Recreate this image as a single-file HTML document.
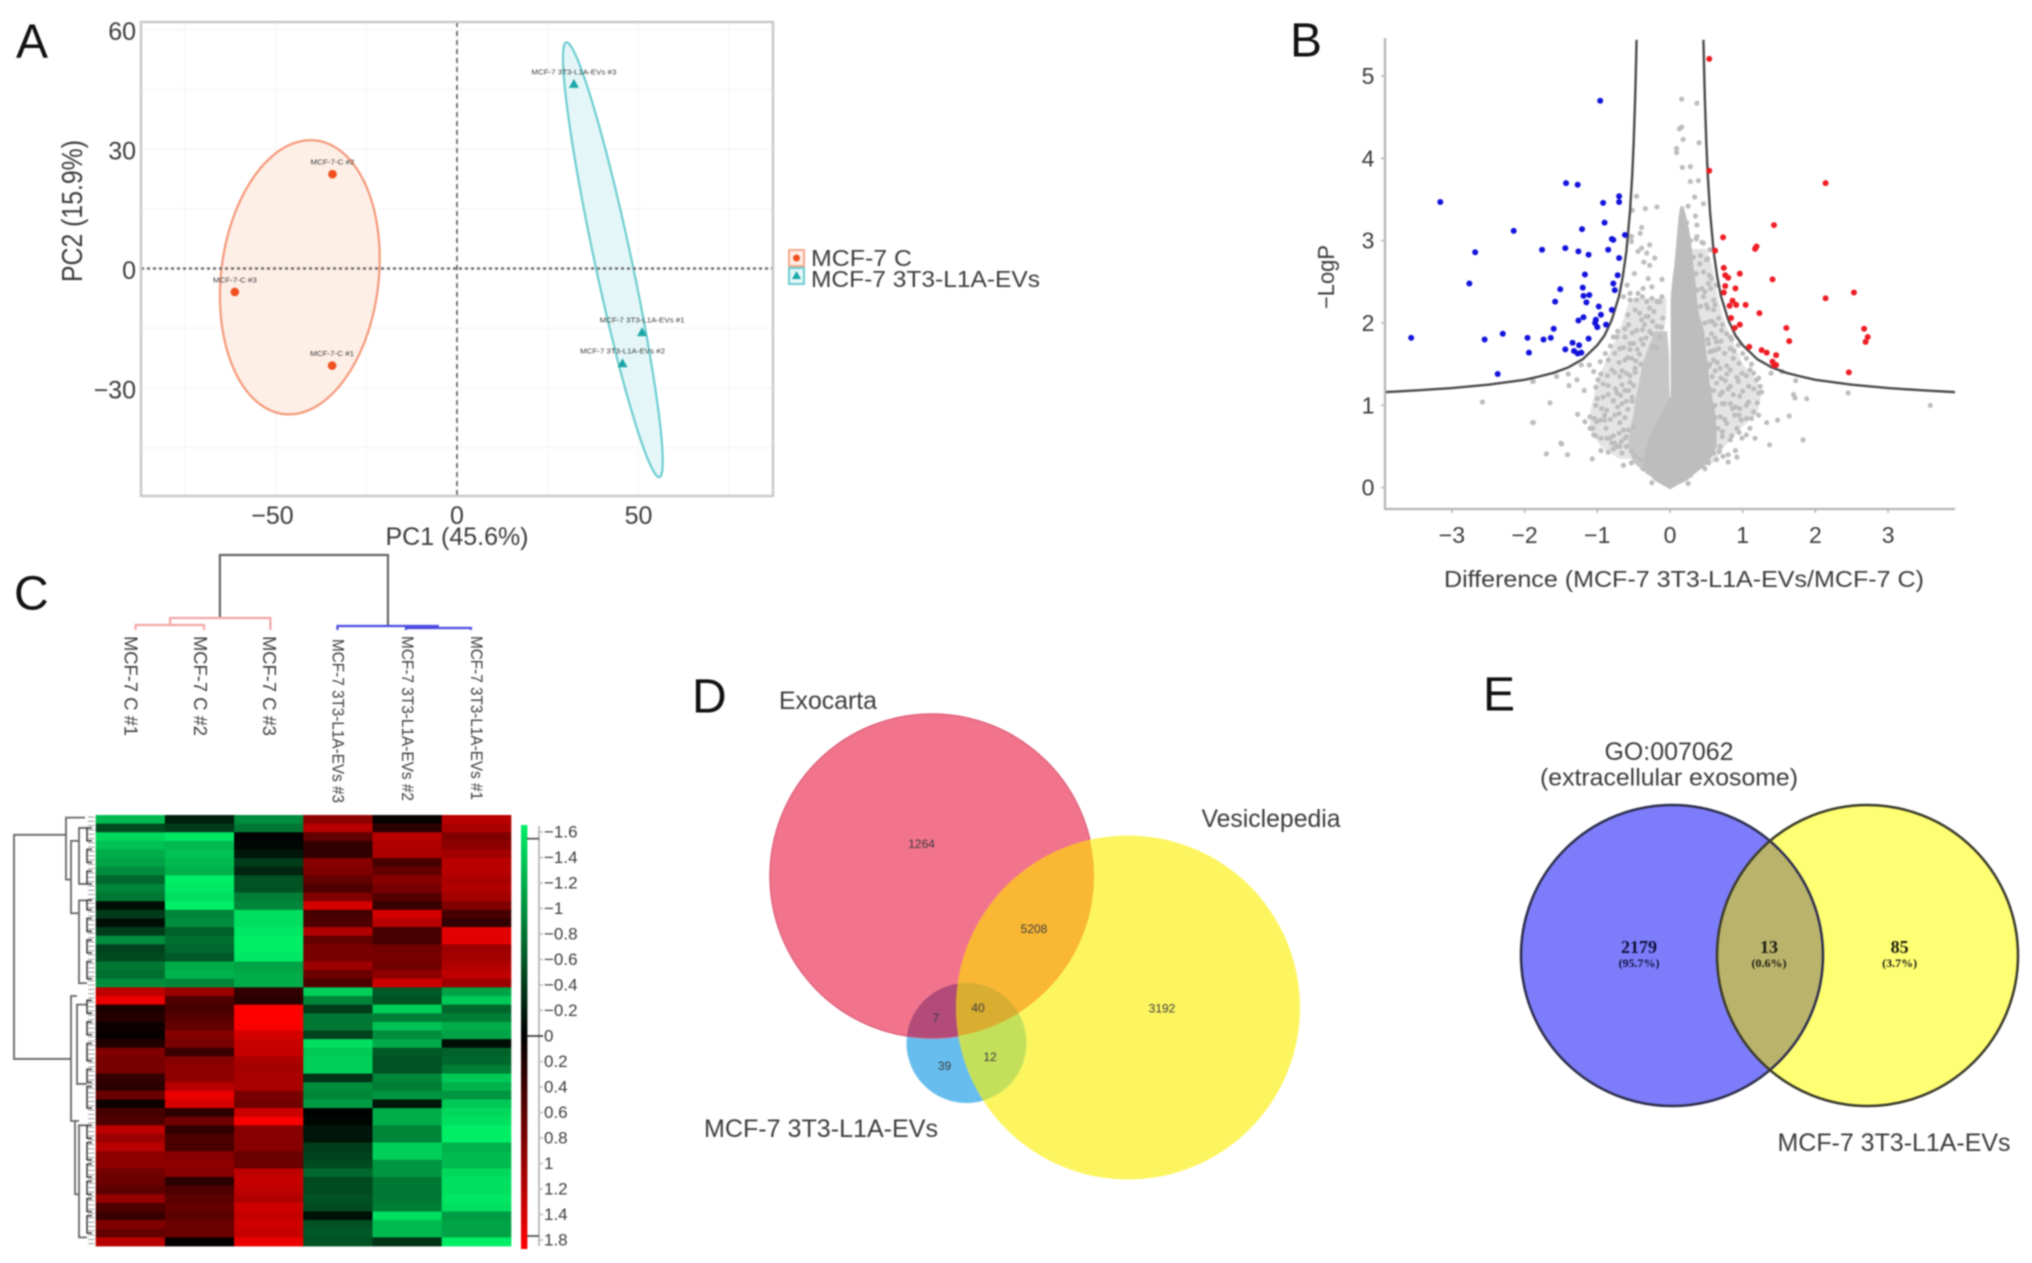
<!DOCTYPE html>
<html lang="en">
<head>
<meta charset="utf-8">
<title>Proteomic analysis of MCF-7 cells and 3T3-L1A extracellular vesicles</title>
<style>
html,body{margin:0;padding:0;background:#fff;}
#figure{display:block;width:2032px;height:1263px;filter:blur(0.8px);font-family:"Liberation Sans",Arial,sans-serif;}
text{fill:#3c3c3c;dominant-baseline:central;}
</style>
</head>
<body>
<svg id="figure" width="2032" height="1263" viewBox="0 0 2032 1263">
  <defs>
    <linearGradient id="colorbar-gradient" x1="0" y1="0" x2="0" y2="1">
      <stop offset="0" stop-color="#00ee66"/>
      <stop offset="0.4976" stop-color="#000000"/>
      <stop offset="1" stop-color="#ff0000"/>
    </linearGradient>
    <clipPath id="clip-exocarta"><circle cx="932" cy="876" r="162"/></clipPath>
    <clipPath id="clip-vesiclepedia"><circle cx="1128" cy="1007.5" r="172"/></clipPath>
    <clipPath id="clip-go"><ellipse cx="1672" cy="955.5" rx="151" ry="150.5"/></clipPath>
  </defs>

  <rect x="0" y="0" width="2032" height="1263" fill="#ffffff"/>

  <text x="16" y="42" font-size="48" fill="#111" style="fill:#111">A</text>
  <text x="1290" y="41" font-size="48" style="fill:#111">B</text>
  <text x="14" y="594" font-size="48" style="fill:#111">C</text>
  <text x="692" y="697" font-size="48" style="fill:#111">D</text>
  <text x="1483" y="695" font-size="48" style="fill:#111">E</text>

  <g id="panel-a"></g>
  <text x="457" y="537" font-size="25" text-anchor="middle" textLength="143" lengthAdjust="spacingAndGlyphs">PC1 (45.6%)</text>
  <text transform="translate(72,211) rotate(-90) scale(1,1.25)" font-size="23" text-anchor="middle" textLength="142" lengthAdjust="spacingAndGlyphs">PC2 (15.9%)</text>

  <g>
    <rect x="789" y="250" width="15" height="16" fill="#fdeee6" stroke="#f4a98a" stroke-width="2"/>
    <circle cx="796.5" cy="258" r="3.5" fill="#f0501e"/>
    <text x="811" y="258" font-size="23" textLength="101" lengthAdjust="spacingAndGlyphs">MCF-7 C</text>
    <rect x="789" y="268" width="15" height="16" fill="#e4f6f8" stroke="#6dcdd0" stroke-width="2"/>
    <polygon points="796.5,271 801,279 792,279" fill="#1aa6a6"/>
    <text x="811" y="279" font-size="23" textLength="229" lengthAdjust="spacingAndGlyphs">MCF-7 3T3-L1A-EVs</text>
  </g>

  <g id="panel-b"></g>
  <text x="1684" y="579" font-size="23" text-anchor="middle" textLength="480" lengthAdjust="spacingAndGlyphs">Difference (MCF-7 3T3-L1A-EVs/MCF-7 C)</text>
  <text transform="translate(1326,277) rotate(-90)" font-size="23" text-anchor="middle" textLength="64" lengthAdjust="spacingAndGlyphs">−LogP</text>

  <g id="panel-c"></g>

  <g>
    <circle cx="966.5" cy="1043" r="60" fill="#66bdee"/>
    <circle cx="932" cy="876" r="162" fill="#f1748c" stroke="#e0627c" stroke-width="1.5"/>
    <circle cx="1128" cy="1007.5" r="172" fill="#fcf560"/>
    <circle cx="1128" cy="1007.5" r="172" fill="#f9b733" clip-path="url(#clip-exocarta)"/>
    <circle cx="966.5" cy="1043" r="60" fill="#b24b78" clip-path="url(#clip-exocarta)"/>
    <circle cx="966.5" cy="1043" r="60" fill="#c4e05b" clip-path="url(#clip-vesiclepedia)"/>
    <g clip-path="url(#clip-vesiclepedia)">
      <circle cx="966.5" cy="1043" r="60" fill="#d9ad30" clip-path="url(#clip-exocarta)"/>
    </g>
    <text x="828" y="701" font-size="25" text-anchor="middle" textLength="98" lengthAdjust="spacingAndGlyphs">Exocarta</text>
    <text x="1271" y="819" font-size="25" text-anchor="middle" textLength="139" lengthAdjust="spacingAndGlyphs">Vesiclepedia</text>
    <text x="821" y="1129" font-size="25" text-anchor="middle" textLength="234" lengthAdjust="spacingAndGlyphs">MCF-7 3T3-L1A-EVs</text>
    <text x="921.6" y="844" font-size="12" text-anchor="middle">1264</text>
    <text x="1034" y="929" font-size="12" text-anchor="middle">5208</text>
    <text x="1162" y="1008.5" font-size="12" text-anchor="middle">3192</text>
    <text x="978" y="1008" font-size="12" text-anchor="middle">40</text>
    <text x="936" y="1018" font-size="12" text-anchor="middle">7</text>
    <text x="990" y="1057" font-size="12" text-anchor="middle">12</text>
    <text x="944.5" y="1066" font-size="12" text-anchor="middle">39</text>
  </g>

  <g>
    <ellipse cx="1672" cy="955.5" rx="151" ry="150.5" fill="#7d7dfb"/>
    <ellipse cx="1867.5" cy="955.5" rx="150.5" ry="150.5" fill="#ffff73"/>
    <ellipse cx="1867.5" cy="955.5" rx="150.5" ry="150.5" fill="#b9b36c" clip-path="url(#clip-go)"/>
    <ellipse cx="1672" cy="955.5" rx="151" ry="150.5" fill="none" stroke="#2e2e4e" stroke-width="2.5"/>
    <ellipse cx="1867.5" cy="955.5" rx="150.5" ry="150.5" fill="none" stroke="#3a3a2a" stroke-width="2.5"/>
    <text x="1669" y="752" font-size="25" text-anchor="middle" textLength="129" lengthAdjust="spacingAndGlyphs">GO:007062</text>
    <text x="1669" y="778" font-size="24" text-anchor="middle" textLength="258" lengthAdjust="spacingAndGlyphs">(extracellular exosome)</text>
    <text x="1894" y="1143" font-size="25" text-anchor="middle" textLength="233" lengthAdjust="spacingAndGlyphs">MCF-7 3T3-L1A-EVs</text>
    <g font-family="'Liberation Serif',serif" font-weight="bold" text-anchor="middle">
      <text x="1639" y="947" font-size="18" style="fill:#10103c">2179</text>
      <text x="1639" y="963" font-size="12" style="fill:#10103c">(95.7%)</text>
      <text x="1769" y="947" font-size="18" style="fill:#1c1c10">13</text>
      <text x="1769" y="963" font-size="12" style="fill:#1c1c10">(0.6%)</text>
      <text x="1899.6" y="947" font-size="18" style="fill:#1c1c10">85</text>
      <text x="1899.6" y="963" font-size="12" style="fill:#1c1c10">(3.7%)</text>
    </g>
  </g>
</svg>

<script>
/* ---------- Panel A: PCA values ---------- */
const pcaXTicks = [-50, 0, 50];
const pcaYTicks = [60, 30, 0, -30];
const pcaXGrid = [-75, -50, -25, 0, 25, 50, 75];
const pcaYGrid = [60, 45, 30, 15, 0, -15, -30, -45];
const controlPC1 = [-34.4, -34.3, -61.2];
const controlPC2 = [-24.4, 23.7, -5.9];
const controlLabels = ['MCF-7-C #1', 'MCF-7-C #2', 'MCF-7-C #3'];
const evPC1 = [51, 45.6, 32.2];
const evPC2 = [-16, -23.8, 46.4];
const evLabels = ['MCF-7 3T3-L1A-EVs #1', 'MCF-7 3T3-L1A-EVs #2', 'MCF-7 3T3-L1A-EVs #3'];

/* ---------- Panel B: volcano values ---------- */
const volcanoXTicks = [-3, -2, -1, 0, 1, 2, 3];
const volcanoYTicks = [0, 1, 2, 3, 4, 5];
const curveAbsDiff = [0.46,0.47,0.48,0.5,0.52,0.55,0.6,0.65,0.7,0.8,0.9,1,1.2,1.4,1.6,1.8,2,2.5,3,3.5,3.92];
const curveLogP = [5.44,5.04,4.71,4.18,3.79,3.36,2.87,2.56,2.33,2.04,1.85,1.73,1.56,1.46,1.395,1.35,1.31,1.25,1.21,1.18,1.16];
const coreLogP = [0,0.05,0.1,0.2,0.3,0.5,0.7,0.9,1.1,1.3,1.5,1.7,1.9,2.1,2.3,2.5,2.7,2.9,3.1,3.3,3.4];
const coreLeft = [0,-0.1,-0.2,-0.3,-0.35,-0.3,-0.22,-0.1,0.03,0.03,0.03,0.03,0.03,0.03,0.03,0.05,0.08,0.1,0.12,0.14,0.16];
const coreRight = [0,0.1,0.22,0.35,0.5,0.62,0.62,0.6,0.56,0.52,0.5,0.47,0.45,0.38,0.35,0.33,0.3,0.28,0.25,0.2,0.17];
const lobeLogP = [0.15,0.3,0.5,0.7,0.9,1.1,1.3,1.5,1.7,1.9];
const lobeLeft = [-0.3,-0.5,-0.58,-0.55,-0.5,-0.47,-0.42,-0.38,-0.3,-0.2];
const lobeRight = [0,0,0,0,0,0,-0.01,-0.01,-0.02,-0.04];
const haloLeftLogP = [0.35,0.5,0.7,0.9,1.1,1.3,1.5,1.7,1.9,2.1,2.3];
const haloLeftOuter = [-0.7,-0.95,-1.1,-1.1,-1.05,-1.0,-0.9,-0.8,-0.7,-0.62,-0.55];
const haloLeftInner = [-0.3,-0.3,-0.3,-0.3,-0.3,-0.25,-0.2,-0.15,-0.08,-0.05,-0.05];
const haloRightLogP = [0.3,0.5,0.7,0.9,1.1,1.3,1.5,1.7,1.9,2.1,2.3,2.5,2.7,2.9];
const haloRightInner = [0.3,0.4,0.4,0.4,0.4,0.4,0.4,0.4,0.35,0.33,0.3,0.28,0.25,0.22];
const haloRightOuter = [0.6,0.75,0.95,1.2,1.25,1.2,1.0,0.9,0.8,0.72,0.66,0.62,0.58,0.5];
const greyPoints = [
[-1.89,1.29],[-1.56,1.35],[-1.40,1.38],[-1.39,1.24],[-1.28,1.31],[-1.18,1.18],[-1.65,1.03],[-1.89,.79],[-1.27,.89],[-1.17,.80],[-1.50,.54],[-1.70,.41],[-1.41,.40],[-1.07,.35],[-.64,.27],[-.53,.30],[-1.02,1.00],[-.94,.96],[-.87,.94],[-.76,.88],[-.69,.79],[-1.01,.80],[-.96,.82],[-1.10,.72],[-1.06,.72],[-.88,.72],[-1.02,.63],[-.87,.60],[-.80,.54],[-.73,.50],[-.67,.56],[-.57,.70],[-.50,.74],
[-1.22,1.49],[-1.11,1.49],[-1.05,1.41],[-.96,1.53],[-.89,1.63],[-.80,1.43],[-.76,1.63],[-.78,1.83],[-.73,1.83],[-.69,1.69],[-.62,1.83],[-.57,1.98],[-.99,1.31],[-.92,1.26],[-.85,1.13],[-.73,1.15],[-.69,1.35],[-.60,1.39],[-.62,1.55],[-.53,1.57],[-.50,1.75],[-.46,1.91],[-.48,2.16],[-.39,2.04],[-.30,2.08],[-.18,1.96],[-.11,2.32],[-.14,1.83],[-.23,1.71],[-.64,2.32],[-.55,2.36],[-.46,2.28],[-.37,2.42],[-.25,2.44],[-.30,2.54],[-.49,2.60],[-.11,2.53],[-.59,2.46],[-.28,2.70],[-.36,2.74],[-.21,2.79],[-.32,2.85],[-.39,2.91],[-.28,2.95],[-.44,2.87],[-.53,3.05],[-.41,3.09],[-.28,2.18],[-.18,2.26],[-.32,2.26],[-.44,2.36],
[-.46,3.54],[-.34,3.39],[-.18,3.41],[-.52,3.37],[-.39,3.16],[-.55,3.05],[-.53,2.99],[.16,4.72],[.37,4.67],[.16,4.38],[.13,4.36],[.18,4.23],[.40,4.19],[.09,4.12],[.09,4.07],[.17,3.89],[.28,3.90],[.28,3.72],[.39,3.73],[.34,3.53],[.25,3.42],[.46,3.45],[.35,3.30],[.37,3.19],[.23,3.22],
[.37,3.05],[.46,2.97],[.55,2.89],[.50,2.77],[.41,2.72],[.57,2.54],[.53,2.48],[.44,2.42],[.46,2.32],[.60,2.28],[.64,2.46],[.50,2.22],[.60,2.16],[.67,2.06],[.71,1.91],[.78,1.87],[.83,1.83],[.57,1.87],[.64,1.77],[.53,1.75],[.67,1.69],[.83,1.69],[.94,1.73],[1.0,1.63],[.87,1.57],[1.05,1.57],[.60,1.55],[.53,1.47],[.69,1.45],[.83,1.43],[.99,1.39],[1.10,1.43],[1.15,1.39],[1.39,1.39],[1.54,1.41],[1.73,1.30],[1.19,1.31],[1.24,1.23],[1.08,1.23],[.94,1.29],[.83,1.23],[.64,1.27],[.55,1.19],[.69,1.13],[.87,1.13],[.96,1.11],[1.22,1.15],[1.08,1.04],[.96,.96],[.83,1.02],[.60,.98],[.53,.88],[.69,.86],[.89,.88],[1.15,.92],[1.22,.88],[1.05,.84],[1.33,.79],[1.48,.82],[1.64,.87],[1.70,1.13],[1.72,1.09],[1.88,1.08],[2.45,1.15],[1.83,.58],[1.37,.52],[1.17,.60],[.99,.60],[.92,.72],[.83,.58],[.69,.50],[.60,.62],[.50,.46],[.73,.38],[.92,.37],[.80,.31],[.64,.34],[.48,.23],[.25,.05],[-.25,.06],[.28,.15],[.37,.34],[.53,.30],
[3.58,1.0],[-2.58,1.04],[-1.88,1.29],[-1.88,.79],[-1.49,.53],
[-.83,.60],[-.76,.54],[-.69,.50],[-.60,.50],[-.53,.44],[-.48,.38],[-.41,.34],[-.37,.23],[-.64,.70],[-.60,.62],
[-.58,.95],[-.52,1.05],[-.62,1.18],[-.55,1.28],[-.48,1.45],[-.42,1.62],[-.33,1.82],[-.28,1.90],[-.40,1.80],[-.35,1.98],[-.24,2.02],[-.55,1.68],[-.66,1.02],[-.78,1.05],[-.72,.98],[-.9,.82],
[.55,2.02],[.62,1.98],[.58,1.66],[.62,1.42],[.76,1.30],[.72,1.02],[.78,.78],[.66,.72],[.58,.78],[.86,.96],[.98,.82],[1.1,.72],[.72,.62],[.55,.58],[.52,1.08],[.50,1.32],
[-.95,.45],[-.85,.43],[-.78,.47],[-.66,.42],[-1.05,.64],[-.95,.60],[-.78,.63],[-.7,.66],[-.62,.60],[-1.1,.86],[-1.04,.84],[-.9,.88],[-.82,.83],[-.7,.90],[-.62,.85],[-1.0,1.08],[-.92,1.10],[-.78,1.06],[-.68,1.12],[-.6,1.05],[-.52,1.10],[-1.02,1.22],[-.85,1.24],[-.75,1.20],[-.66,1.25],[-.57,1.18],[-.5,1.24],[-.95,1.38],[-.86,1.36],[-.76,1.40],[-.66,1.42],[-.55,1.36],[-.48,1.40],[-.85,1.55],[-.7,1.52],[-.58,1.58],[-.47,1.54],[-.4,1.50],[-.82,1.72],[-.64,1.70],[-.55,1.75],[-.45,1.68],[-.37,1.74],[-.18,1.70],[-.72,1.90],[-.62,1.93],[-.52,1.88],[-.38,1.92],[-.25,1.87],[-.12,1.95],[-.58,2.10],[-.42,2.12],[-.33,2.08],[-.22,2.14],[-.1,2.06],[-.55,2.28],[-.38,2.32],[-.25,2.30],[-.14,2.26],
[.6,.42],[.68,.44],[.8,.40],[.9,.45],[.6,.65],[.72,.68],[.85,.63],[.95,.67],[1.05,.64],[.62,.85],[.75,.83],[.95,.88],[1.12,.84],[.62,1.0],[.75,1.02],[.9,.98],[1.05,1.0],[1.2,1.03],[.6,1.18],[.72,1.16],[.8,1.2],[1.0,1.17],[1.15,1.20],[1.26,1.16],[.58,1.35],[.7,1.33],[.78,1.38],[.92,1.34],[1.05,1.36],[1.22,1.33],[.55,1.5],[.65,1.52],[.78,1.48],[.95,1.51],[1.12,1.5],[.55,1.65],[.62,1.67],[.75,1.63],[.88,1.66],[.52,1.8],[.62,1.82],[.7,1.78],[.85,1.8],[.48,2.0],[.58,2.02],[.72,1.98],[.42,2.2],[.52,2.18],[.62,2.22],[.38,2.4],[.48,2.38],[.56,2.42],[.36,2.6],[.46,2.62],[.54,2.58],[.32,2.8],[.42,2.82],[.52,2.78],[.28,3.0],[.36,3.02],[.44,2.98]
];
const bluePoints = [
[-.96,4.70],[-1.43,3.70],[-1.27,3.68],[-.70,3.54],[-.70,3.47],[-.92,3.46],[-3.16,3.47],[-.90,3.22],[-2.15,3.12],[-1.21,3.14],[-.62,3.07],[-.80,3.02],[-.78,3.01],[-1.44,2.91],[-1.76,2.89],[-2.68,2.86],[-1.26,2.87],[-1.12,2.83],[-.85,2.89],[-.70,2.79],[-1.17,2.59],[-.72,2.58],[-2.76,2.48],[-.78,2.48],[-1.20,2.43],[-.76,2.40],[-1.51,2.41],[-1.11,2.34],[-1.19,2.33],[-1.15,2.25],[-1.58,2.26],[-.98,2.20],[-.80,2.16],[-.95,2.10],[-1.19,2.07],[-1.26,2.03],[-1.02,2.04],[-1.03,2.00],[-1.0,1.95],[-.88,1.98],[-1.60,1.93],[-2.30,1.87],[-1.64,1.82],[-1.96,1.82],[-3.56,1.82],[-2.55,1.80],[-1.74,1.80],[-1.12,1.81],[-1.34,1.76],[-1.94,1.64],[-1.44,1.68],[-1.25,1.73],[-1.32,1.66],[-1.27,1.63],[-1.22,1.64],[-2.37,1.38]
];
const redPoints = [
[.54,5.21],[.54,3.85],[2.14,3.70],[1.43,3.19],[.73,3.04],[1.19,2.93],[1.17,2.90],[.62,2.88],[.74,2.67],[.96,2.60],[.76,2.58],[.80,2.55],[1.41,2.53],[.76,2.45],[.74,2.37],[.90,2.42],[2.53,2.37],[2.14,2.30],[.86,2.27],[.82,2.21],[.91,2.22],[1.04,2.22],[1.23,2.12],[.84,2.06],[.96,1.98],[.89,1.94],[1.60,1.94],[2.67,1.93],[2.72,1.83],[2.69,1.77],[1.64,1.78],[1.09,1.71],[1.26,1.67],[1.33,1.64],[1.46,1.61],[1.41,1.53],[1.43,1.49],[1.46,1.49],[2.46,1.40]
];

/* ---------- Panel C: heatmap values (one array per sample, 50 rows) ---------- */
const sampleC1 = [-1.25,-.5,-1.45,-1.3,-1.15,-1.1,-.95,-.7,-.9,-.8,-.1,-.4,-.1,-.4,-.95,-.45,-.5,-.8,-.75,-.95,
 1.35,1.65,.2,.25,.1,.05,.25,.9,.85,.85,.35,.3,.75,.1,.5,.55,1.35,1.1,1.3,1.0,1.0,.8,.75,.65,1.05,.55,.4,.9,.7,1.3];
const sampleC2 = [-.2,-.4,-1.55,-1.25,-1.3,-1.25,-1.2,-1.6,-1.55,-1.5,-1.6,-.9,-.95,-.65,-.75,-.7,-.6,-1.15,-1.2,-.9,
 1.1,.55,.5,.6,.7,.95,.85,.4,.95,1.0,1.0,1.3,1.65,1.5,.3,.8,.35,.55,.5,.95,1.0,.95,.3,.55,.65,.7,.65,.75,.75,.05];
const sampleC3 = [-.95,-.8,-.02,-.05,-.15,-.4,-.25,-.55,-.55,-.85,-.9,-1.5,-1.5,-1.55,-1.6,-1.6,-1.55,-1.1,-1.15,-1.15,
 .35,.3,1.8,1.8,1.75,1.5,1.4,1.4,1.2,1.15,1.2,1.2,.85,.8,1.45,1.75,.95,.95,.95,.75,.75,1.35,1.4,1.35,1.25,1.45,1.4,1.45,1.4,1.65];
const sampleEV3 = [1.0,1.3,.7,.35,.35,.95,.9,.7,.55,.9,1.5,.5,.55,1.25,.7,.85,.85,1.1,.75,.55,
 -1.4,-.9,-.4,-.8,-.8,-.45,-1.5,-1.35,-1.4,-1.4,-.35,-.95,-.9,-1.05,-.02,-.05,-.15,-.15,-.4,-.45,-.5,-.7,-.5,-.5,-.55,-.5,-.12,-.55,-.6,-.55];
const sampleEV2 = [.05,.3,1.3,1.25,1.2,.5,.7,.95,.85,.6,.4,1.5,1.3,.5,.5,.8,.85,.8,1.0,1.45,
 -.6,-.55,-1.4,-.85,-1.3,-.95,-1.15,-.6,-.55,-.55,-.9,-.85,-1.0,-.15,-1.15,-1.15,-.9,-.9,-1.4,-1.4,-1.0,-1.0,-.8,-.8,-.8,-.85,-1.5,-1.25,-1.25,-.35];
const sampleEV1 = [1.3,1.2,.9,1.0,1.15,1.3,1.3,1.2,1.25,1.15,.9,.5,.35,1.6,1.6,1.1,1.15,1.25,1.35,1.1,
 -1.1,-1.35,-.7,-.85,-1.15,-1.1,-.1,-.65,-.7,-.85,-1.35,-1.2,-1.0,-1.35,-1.45,-1.5,-1.65,-1.7,-1.2,-1.25,-1.25,-1.45,-1.5,-1.5,-1.55,-1.5,-1.05,-1.1,-1.1,-1.6];
const heatSamples = [sampleC1, sampleC2, sampleC3, sampleEV3, sampleEV2, sampleEV1];
const heatLabels = ['MCF-7 C #1','MCF-7 C #2','MCF-7 C #3','MCF-7 3T3-L1A-EVs #3','MCF-7 3T3-L1A-EVs #2','MCF-7 3T3-L1A-EVs #1'];
const colorbarTickLabels = ['−1.6','−1.4','−1.2','−1','−0.8','−0.6','−0.4','−0.2','0','0.2','0.4','0.6','0.8','1','1.2','1.4','1.8'];
/* column tree: from/to column index, merge height, child heights */
const colTreeFrom = [1.29,0.57,0.07,2.99,3.98];
const colTreeTo = [3.72,2.02,1.06,4.44,4.92];
const colTreeHeight = [75,12,5,4,2];
const colTreeChildA = [12,6,0,0,0];
const colTreeChildB = [5,0,0,2,0];
const colTreeKind = ['root','control','control','ev','ev'];
/* row tree: from/to row index, merge height, child heights */
const rowTreeFrom = [2.3,0.3,3,1.5,9.9,21,22,35.5,36, 1.5,4,6.5,9.9,12,14.5,17, 21.5,24,26.5,29.5,31.5,36,38,40.5,42.5,44.5,46.5];
const rowTreeTo = [28.3,7.5,11.4,8,19.5,35.5,31.2,44,49, 3,5.5,8,11,13.5,16,19, 23,25.5,28.5,31,34,37.5,40,42,44,46,48.5];
const rowTreeHeight = [81,29,24,16,16,24,18,20,16, 8,8,8,8,8,8,8, 8,8,8,8,8,8,8,8,8,8,8];
const rowTreeChildA = [29,10,16,8,8,18,8,16,8, 3,3,3,3,3,3,3, 3,3,3,3,3,3,3,3,3,3,3];
const rowTreeChildB = [24,24,16,8,8,20,8,16,8, 3,3,3,3,3,3,3, 3,3,3,3,3,3,3,3,3,3,3];

/* ---------- helpers ---------- */
const svg = document.getElementById('figure');
const NS = svg.namespaceURI;
function mk(tag, attrs, parent) {
  const el = document.createElementNS(NS, tag);
  for (const k in attrs) el.setAttribute(k, attrs[k]);
  parent.appendChild(el);
  return el;
}
function linePath(pts) {
  return pts.map((p, i) => (i ? 'L' : 'M') + p[0].toFixed(2) + ' ' + p[1].toFixed(2)).join(' ');
}

/* ---------- Panel A ---------- */
(function () {
  const g = document.getElementById('panel-a');
  const L = 141, R = 773, T = 22, B = 496;
  const sx = v => 457 + v * 3.63;
  const sy = v => 268.5 - v * 3.98;

  const bg = mk('rect', {x: L, y: T, width: R - L, height: B - T, fill: '#fff'}, g);
  
  

  pcaXGrid.forEach(v => {
    const ln = mk('line', {x1: sx(v), x2: sx(v), y1: T, y2: B, stroke: '#f6f6f6', 'stroke-width': 1.5}, g);
    
    
  });
  pcaYGrid.forEach(v => {
    const ln = mk('line', {x1: L, x2: R, y1: sy(v), y2: sy(v), stroke: '#f6f6f6', 'stroke-width': 1.5}, g);
    
    
  });

  function ellipsePts(xs, ys) {
    const n = xs.length, k = 1.42;
    const mx = xs.reduce((a, b) => a + b, 0) / n, my = ys.reduce((a, b) => a + b, 0) / n;
    let sxx = 0, syy = 0, sxy = 0;
    for (let i = 0; i < n; i++) {
      sxx += (xs[i] - mx) ** 2;
      syy += (ys[i] - my) ** 2;
      sxy += (xs[i] - mx) * (ys[i] - my);
    }
    const sdx = Math.sqrt(sxx / (n - 1)), sdy = Math.sqrt(syy / (n - 1));
    const r = (sxy / (n - 1)) / (sdx * sdy);
    const pts = [];
    for (let a = 0; a < 120; a++) {
      const t = a / 120 * 2 * Math.PI;
      pts.push([sx(mx + k * sdx * Math.cos(t)), sy(my + k * sdy * (r * Math.cos(t) + Math.sqrt(Math.max(0, 1 - r * r)) * Math.sin(t)))]);
    }
    return linePath(pts) + ' Z';
  }
  const e1 = mk('path', {d: ellipsePts(controlPC1, controlPC2), fill: '#fdeee6', stroke: '#f4997a', 'stroke-width': 2.2}, g);
  
  
  const e2 = mk('path', {d: ellipsePts(evPC1, evPC2), fill: '#e4f6f8', stroke: '#6dcdd0', 'stroke-width': 2.2}, g);
  
  

  const hz = mk('line', {x1: L, x2: R, y1: sy(0), y2: sy(0), stroke: '#6e6e6e', 'stroke-width': 2.6, 'stroke-dasharray': '3 3'}, g);
  
  
  const vt = mk('line', {x1: sx(0), x2: sx(0), y1: T, y2: B, stroke: '#5a5a5a', 'stroke-width': 1.6, 'stroke-dasharray': '5 4'}, g);
  
  

  const frame = mk('rect', {x: L, y: T, width: R - L, height: B - T, fill: 'none', stroke: '#c9c9c9', 'stroke-width': 2.5}, g);
  
  

  pcaXTicks.forEach(v => {
    const t = mk('text', {x: sx(v) + (v < 0 ? -3 : 0), y: 516, 'font-size': 25, 'text-anchor': 'middle'}, g);
    t.textContent = v < 0 ? '−' + (-v) : String(v);
    
    
  });
  pcaYTicks.forEach(v => {
    const t = mk('text', {x: 136, y: sy(v) + 2.5, 'font-size': 25, 'text-anchor': 'end'}, g);
    t.textContent = v < 0 ? '−' + (-v) : String(v);
    
    
  });

  controlPC1.forEach((v, i) => {
    const c = mk('circle', {cx: sx(v), cy: sy(controlPC2[i]), r: 4.3, fill: '#f0501e'}, g);
    
    
    const t = mk('text', {x: sx(v), y: sy(controlPC2[i]) - 11, 'font-size': 7, 'text-anchor': 'middle', textLength: 44, lengthAdjust: 'spacingAndGlyphs'}, g);
    t.textContent = controlLabels[i];
    
    
  });
  evPC1.forEach((v, i) => {
    const px = sx(v), py = sy(evPC2[i]);
    const c = mk('polygon', {points: (px) + ',' + (py - 5) + ' ' + (px + 5) + ',' + (py + 4) + ' ' + (px - 5) + ',' + (py + 4), fill: '#1aa6a6'}, g);
    
    
    const t = mk('text', {x: px, y: py - 11, 'font-size': 7, 'text-anchor': 'middle', textLength: 85, lengthAdjust: 'spacingAndGlyphs'}, g);
    t.textContent = evLabels[i];
    
    
  });
})();

/* ---------- Panel B ---------- */
(function () {
  const g = document.getElementById('panel-b');
  const sx = v => 1670 + v * 72.7;
  const sy = v => 487.6 - v * 82.3;

  function band(ys, ls, rs) {
    const pts = [];
    ys.forEach((y, i) => pts.push([sx(ls[i]), sy(y)]));
    for (let i = ys.length - 1; i >= 0; i--) pts.push([sx(rs[i]), sy(ys[i])]);
    return linePath(pts) + ' Z';
  }
  const haloL = mk('path', {d: band(haloLeftLogP, haloLeftOuter, haloLeftInner), fill: '#e4e4e4'}, g);
  
  
  const haloR = mk('path', {d: band(haloRightLogP, haloRightInner, haloRightOuter), fill: '#e4e4e4'}, g);
  
  
  const lobe = mk('path', {d: band(lobeLogP, lobeLeft, lobeRight), fill: '#c6c6c6'}, g);
  
  
  const core = mk('path', {d: band(coreLogP, coreLeft, coreRight), fill: '#bdbdbd', stroke: '#bdbdbd', 'stroke-width': 3}, g);
  
  

  greyPoints.forEach(p => {
    const c = mk('circle', {cx: sx(p[0]), cy: sy(p[1]), r: 2.6, fill: '#bdbdbd'}, g);
    
    
  });

  const left = [], right = [];
  curveAbsDiff.forEach((v, i) => {
    left.push([sx(-v), sy(curveLogP[i])]);
    right.push([sx(v), sy(curveLogP[i])]);
  });
  const cl = mk('path', {d: linePath(left), fill: 'none', stroke: '#4a4a4a', 'stroke-width': 2.4}, g);
  
  
  const cr = mk('path', {d: linePath(right), fill: 'none', stroke: '#4a4a4a', 'stroke-width': 2.4}, g);
  
  

  bluePoints.forEach(p => {
    const c = mk('circle', {cx: sx(p[0]), cy: sy(p[1]), r: 3, fill: '#1212dc'}, g);
    
    
  });
  redPoints.forEach(p => {
    const c = mk('circle', {cx: sx(p[0]), cy: sy(p[1]), r: 3, fill: '#ee1c25'}, g);
    
    
  });

  const ax = mk('path', {d: 'M1385 38 L1385 509 L1955 509', fill: 'none', stroke: '#b4b4b4', 'stroke-width': 2.2}, g);
  
  

  volcanoXTicks.forEach(v => {
    const tk = mk('line', {x1: sx(v), x2: sx(v), y1: 509, y2: 513, stroke: '#b4b4b4', 'stroke-width': 1.5}, g);
    
    
    const t = mk('text', {x: sx(v), y: 535, 'font-size': 23, 'text-anchor': 'middle'}, g);
    t.textContent = v < 0 ? '−' + (-v) : String(v);
    
    
  });
  volcanoYTicks.forEach(v => {
    const tk = mk('line', {x1: 1381, x2: 1385, y1: sy(v), y2: sy(v), stroke: '#b4b4b4', 'stroke-width': 1.5}, g);
    
    
    const t = mk('text', {x: 1368, y: sy(v), 'font-size': 23, 'text-anchor': 'middle'}, g);
    t.textContent = String(v);
    
    
  });
})();

/* ---------- Panel C ---------- */
(function () {
  const g = document.getElementById('panel-c');
  const hmLeft = 95.7, colW = 69.2, hmTop = 815, rowH = 8.62;
  const rowCount = heatSamples[0].length;
  const cx = i => hmLeft + colW * i;
  const ry = i => hmTop + rowH * i;
  const colCenter = i => 130.7 + 69.15 * i;
  const rowCenter = r => hmTop + rowH * r;
  function heatColor(v) {
    if (v < 0) {
      const t = Math.min(1, -v / 1.6);
      return 'rgb(0,' + Math.round(238 * t) + ',' + Math.round(102 * t) + ')';
    }
    const t = Math.min(1, v / 1.8);
    return 'rgb(' + Math.round(255 * t) + ',0,0)';
  }

  heatSamples.forEach((values, c) => {
    values.forEach((v, r) => {
      const cell = mk('rect', {x: cx(c), y: ry(r), width: colW + 0.4, height: rowH + 0.4, fill: heatColor(v)}, g);
      
      
    });
  });

  /* sample labels */
  const labelStart = [636, 636, 636, 639, 636, 636];
  const labelLen = [100, 100, 100, 164, 165, 164];
  heatLabels.forEach((s, i) => {
    const t = mk('text', {transform: 'translate(' + colCenter(i) + ',' + labelStart[i] + ') rotate(90)', 'font-size': i < 3 ? 18 : 17, textLength: labelLen[i], lengthAdjust: 'spacingAndGlyphs'}, g);
    t.textContent = s;
    
    
  });

  /* column dendrogram */
  const colTreeColor = {root: '#666666', control: '#f4a6a6', ev: '#4a4ae0'};
  colTreeFrom.forEach((a, i) => {
    const ya = 630 - colTreeChildA[i], yb = 630 - colTreeChildB[i], y = 630 - colTreeHeight[i];
    const p = mk('path', {d: linePath([[colCenter(a), ya], [colCenter(a), y], [colCenter(colTreeTo[i]), y], [colCenter(colTreeTo[i]), yb]]), fill: 'none', stroke: colTreeColor[colTreeKind[i]], 'stroke-width': 2.2}, g);
    
    
  });

  /* row dendrogram */
  rowTreeFrom.forEach((a, i) => {
    const b = rowTreeTo[i], x = 95 - rowTreeHeight[i];
    const p = mk('path', {d: linePath([[95 - rowTreeChildA[i], rowCenter(a)], [x, rowCenter(a)], [x, rowCenter(b)], [95 - rowTreeChildB[i], rowCenter(b)]]), fill: 'none', stroke: rowTreeHeight[i] > 8 ? '#666666' : '#2a2a2a', 'stroke-width': rowTreeHeight[i] > 8 ? 1.8 : 1.4}, g);
    
    
  });
  for (let r = 0; r < rowCount * 2; r++) {
    const leaf = mk('line', {x1: 88, x2: 94.5, y1: hmTop + rowH * r / 2 + 2, y2: hmTop + rowH * r / 2 + 2, stroke: '#999', 'stroke-width': 1}, g);
    
    
  }

  /* colour scale */
  const bar = mk('rect', {x: 521, y: 825, width: 6.4, height: 424, fill: 'url(#colorbar-gradient)'}, g);
  
  
  const bax = mk('line', {x1: 539, x2: 539, y1: 826, y2: 1246, stroke: '#bdbdbd', 'stroke-width': 2}, g);
  
  
  colorbarTickLabels.forEach((s, i) => {
    const y = 832 + 25.5 * i;
    const tk = mk('line', {x1: 539, x2: 543, y1: y, y2: y, stroke: '#bdbdbd', 'stroke-width': 1.5}, g);
    
    
    const t = mk('text', {x: 544, y: y, 'font-size': 17}, g);
    t.textContent = s;
    
    
  });
  const m0 = mk('line', {x1: 526, x2: 543, y1: 1036, y2: 1036, stroke: '#222', 'stroke-width': 1.6}, g);
  
  
  const m1 = mk('line', {x1: 527, x2: 539, y1: 838.7, y2: 838.7, stroke: '#444', 'stroke-width': 1.6}, g);
  
  
  const m2 = mk('line', {x1: 527, x2: 539, y1: 1236, y2: 1236, stroke: '#444', 'stroke-width': 1.6}, g);
  
  
})();
</script>
</body>
</html>
